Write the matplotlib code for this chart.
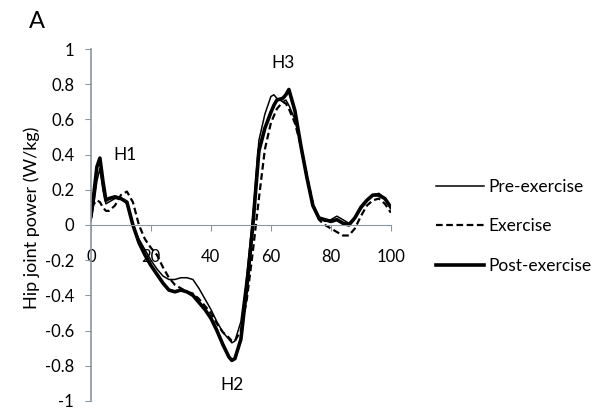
import matplotlib
matplotlib.use("Agg")
import matplotlib.pyplot as plt

plt.rcParams['font.family'] = ['Lato', 'DejaVu Sans']

# gait cycle (%)
x = [0, 1, 2, 3, 4, 5, 6, 8, 10, 12, 14, 16, 18, 20, 22, 24, 26, 28, 30, 32, 34, 36, 38, 40,
     42, 44, 46, 47, 48, 50, 52, 54, 56, 58, 60, 61, 62, 64, 65, 66, 68, 70, 72, 74, 76, 78,
     80, 82, 84, 86, 88, 90, 92, 94, 96, 98, 100]

pre = [0.02, 0.12, 0.25, 0.32, 0.20, 0.12, 0.13, 0.15, 0.15, 0.12, 0.0, -0.08, -0.14, -0.20,
       -0.25, -0.29, -0.31, -0.31, -0.30, -0.30, -0.31, -0.36, -0.42, -0.48, -0.55, -0.61,
       -0.65, -0.67, -0.66, -0.55, -0.28, 0.05, 0.48, 0.63, 0.73, 0.74, 0.72, 0.70, 0.71, 0.68,
       0.60, 0.45, 0.28, 0.12, 0.04, 0.02, 0.03, 0.05, 0.03, 0.01, 0.04, 0.09, 0.14, 0.17, 0.18,
       0.15, 0.10]

exercise = [0.10, 0.12, 0.14, 0.13, 0.10, 0.08, 0.08, 0.11, 0.17, 0.19, 0.13, 0.0, -0.08, -0.13,
            -0.17, -0.24, -0.30, -0.34, -0.36, -0.38, -0.39, -0.42, -0.46, -0.50, -0.56, -0.61,
            -0.64, -0.66, -0.66, -0.60, -0.42, -0.15, 0.15, 0.43, 0.58, 0.62, 0.66, 0.70, 0.69,
            0.66, 0.58, 0.45, 0.28, 0.12, 0.03, 0.0, -0.02, -0.04, -0.06, -0.06, -0.02, 0.05,
            0.11, 0.14, 0.15, 0.12, 0.07]

post = [0.05, 0.18, 0.33, 0.38, 0.25, 0.14, 0.15, 0.16, 0.15, 0.13, 0.0, -0.10, -0.17, -0.23,
        -0.28, -0.33, -0.37, -0.38, -0.37, -0.38, -0.40, -0.44, -0.48, -0.53, -0.60, -0.68,
        -0.75, -0.77, -0.76, -0.65, -0.35, 0.0, 0.42, 0.55, 0.64, 0.68, 0.71, 0.72, 0.74, 0.77,
        0.65, 0.45, 0.27, 0.11, 0.04, 0.03, 0.02, 0.03, 0.01, 0.0, 0.04, 0.10, 0.14, 0.17, 0.17,
        0.15, 0.10]

xticks = [0, 20, 40, 60, 80, 100]
yticks = [-1, -0.8, -0.6, -0.4, -0.2, 0, 0.2, 0.4, 0.6, 0.8, 1]
ytick_labels = ['-1', '-0.8', '-0.6', '-0.4', '-0.2', '0', '0.2', '0.4', '0.6', '0.8', '1']

fig = plt.figure(figsize=(6.06, 4.12), dpi=100)
ax = fig.add_axes([0.150, 0.027, 0.495, 0.854])

ax.plot(x, pre, color='black', lw=1.1, label='Pre-exercise')
ax.plot(x, exercise, color='black', lw=1.6, ls=(0, (3, 1.6)), label='Exercise')
ax.plot(x, post, color='black', lw=2.6, label='Post-exercise')

ax.set_xlim(0, 100)
ax.set_ylim(-1, 1)
spine_col = '#8a96a3'
ax.spines['top'].set_visible(False)
ax.spines['right'].set_visible(False)
ax.spines['bottom'].set_position(('data', 0))
ax.spines['bottom'].set_color(spine_col)
ax.spines['left'].set_color(spine_col)
ax.spines['left'].set_linewidth(1.2)

ax.set_xticks(xticks)
ax.set_xticklabels([str(v) for v in xticks])
ax.set_yticks(yticks)
ax.set_yticklabels(ytick_labels)
ax.tick_params(axis='x', direction='out', length=4, pad=13, color=spine_col, labelsize=12)
ax.tick_params(axis='y', direction='out', length=4, pad=8, color=spine_col, labelsize=12)

ax.set_ylabel('Hip joint power (W/kg)', fontsize=13)
ax.yaxis.set_label_coords(-0.17, 0.52)

# peak labels
ax.text(11.3, 0.40, 'H1', fontsize=12.5, ha='center', va='center')
ax.text(64, 0.92, 'H3', fontsize=12.5, ha='center', va='center')
ax.text(47, -0.91, 'H2', fontsize=12.5, ha='center', va='center')

fig.text(0.048, 0.949, 'A', fontsize=17, va='center')

ax.legend(loc='center left', bbox_to_anchor=(0.708, 0.451), bbox_transform=fig.transFigure,
          frameon=False, fontsize=12.5, handlelength=2.75, handletextpad=0.25,
          labelspacing=1.35, borderaxespad=0)

fig.savefig('out.png', dpi=100)
